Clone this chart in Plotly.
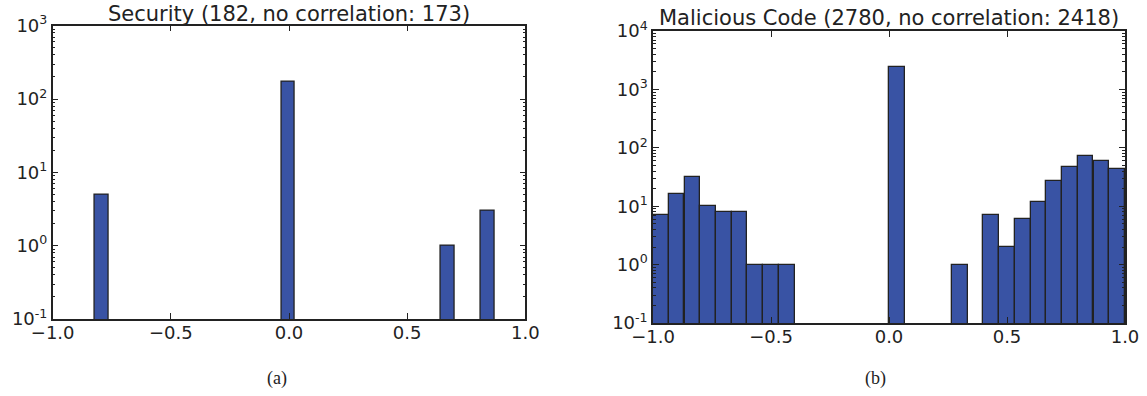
import plotly.graph_objects as go

# ---- data ----
sec_centers = [-0.793, -0.004, 0.672, 0.841]
sec_counts = [5, 173, 1, 3]
sec_bin_width = 0.0563

mal_centers = [-0.967, -0.900, -0.833, -0.767, -0.700, -0.633, -0.567, -0.500, -0.433,
               0.033, 0.300,
               0.433, 0.500, 0.567, 0.633, 0.700, 0.767, 0.833, 0.900, 0.967]
mal_counts = [7, 16, 32, 10, 8, 8, 1, 1, 1,
              2418, 1,
              7, 2, 6, 12, 27, 46, 73, 60, 44]
mal_bin_width = 2 / 30

x_tickvals = [-1.0, -0.5, 0.0, 0.5, 1.0]
x_ticktext = ["\u22121.0", "\u22120.5", "0.0", "0.5", "1.0"]

sec_title = "Security (182, no correlation: 173)"
mal_title = "Malicious Code (2780, no correlation: 2418)"
captions = ["(a)", "(b)"]

# ---- styling ----
W, H = 1147, 396
BAR = "#3953a4"
EDGE = "#222222"
AX = "#222222"
TICKFONT = dict(family="DejaVu Sans", size=18, color="#222222")
TITLEFONT = dict(family="DejaVu Sans", size=21, color="#222222")
CAPFONT = dict(family="Liberation Serif", size=18, color="#222222")

def px_x(p):
    return p / W

def px_y(p):
    return 1 - p / H

fig = go.Figure()
fig.add_trace(go.Bar(x=sec_centers, y=sec_counts, width=[sec_bin_width] * len(sec_centers),
                     marker=dict(color=BAR, line=dict(color=EDGE, width=1.3)),
                     xaxis="x", yaxis="y", showlegend=False))
fig.add_trace(go.Bar(x=mal_centers, y=mal_counts, width=[mal_bin_width] * len(mal_centers),
                     marker=dict(color=BAR, line=dict(color=EDGE, width=1.3)),
                     xaxis="x2", yaxis="y2", showlegend=False))

def xax(domain, anchor):
    return dict(domain=domain, anchor=anchor, range=[-1, 1], tickvals=x_tickvals,
                ticktext=x_ticktext, ticks="inside", ticklen=6, tickwidth=1.3,
                tickcolor=AX, showline=True, linecolor=AX, linewidth=1.5,
                mirror="ticks", showgrid=False, zeroline=False, tickfont=TICKFONT,
                automargin=False, ticklabelstandoff=-3)

def yax(domain, anchor, top):
    vals = list(range(-1, top + 1))
    return dict(domain=domain, anchor=anchor, type="log", range=[-1, top],
                tickvals=[10 ** v for v in vals],
                ticktext=["10<sup>%d</sup>" % v for v in vals],
                ticks="inside", ticklen=6, tickwidth=1.3, tickcolor=AX,
                minor=dict(ticks="inside", ticklen=3, tickwidth=1, tickcolor=AX,
                           dtick="D1", showgrid=False),
                showline=True, linecolor=AX, linewidth=1.5, mirror="ticks",
                showgrid=False, zeroline=False, tickfont=TICKFONT,
                automargin=False)

fig.update_layout(
    width=W, height=H, margin=dict(l=0, r=0, t=0, b=0, autoexpand=False),
    paper_bgcolor="white", plot_bgcolor="white", bargap=0,
    xaxis=xax([px_x(52.7), px_x(525.3)], "y"),
    yaxis=yax([px_y(319), px_y(25.7)], "x", 3),
    xaxis2=xax([px_x(653), px_x(1125)], "y2"),
    yaxis2=yax([px_y(323), px_y(31)], "x2", 4),
)

annots = [
    dict(text=sec_title, x=px_x(289), y=px_y(28), xref="paper", yref="paper",
         xanchor="center", yanchor="bottom", showarrow=False, font=TITLEFONT),
    dict(text=mal_title, x=px_x(889), y=px_y(31.5), xref="paper", yref="paper",
         xanchor="center", yanchor="bottom", showarrow=False, font=TITLEFONT),
    dict(text=captions[0], x=px_x(277), y=px_y(378), xref="paper", yref="paper",
         xanchor="center", yanchor="middle", showarrow=False, font=CAPFONT),
    dict(text=captions[1], x=px_x(875), y=px_y(378), xref="paper", yref="paper",
         xanchor="center", yanchor="middle", showarrow=False, font=CAPFONT),
]
fig.update_layout(annotations=annots)

fig.write_html("out.html")
